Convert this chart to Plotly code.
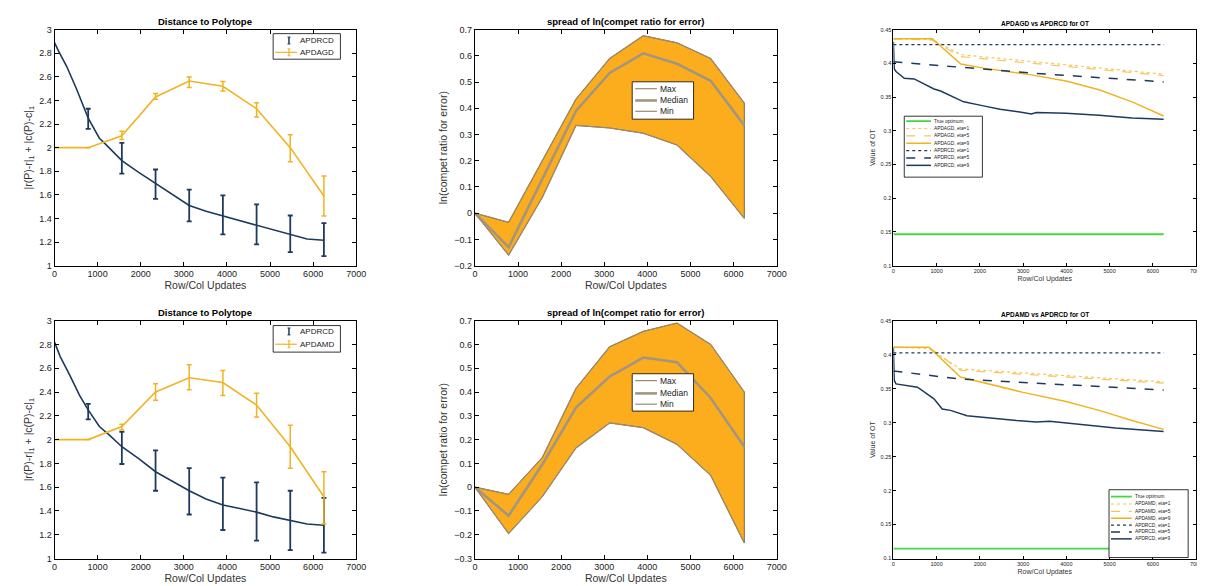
import plotly.graph_objects as go

W, H = 1205, 586

# ---------------- data ----------------
x_pts = [0, 781, 1562, 2344, 3125, 3906, 4688, 5469, 6250]
x_err = [781, 1562, 2344, 3125, 3906, 4688, 5469, 6250]

# top-left
tl_blue_x = [0, 91, 281, 508, 781, 1040, 1153, 1562, 1953, 2344, 2734, 3125, 3516, 3906, 4297, 4688, 5078, 5469, 5859, 6250]
tl_blue_y = [2.89, 2.82, 2.69, 2.50, 2.25, 2.08, 2.04, 1.89, 1.79, 1.695, 1.60, 1.51, 1.46, 1.42, 1.38, 1.34, 1.30, 1.26, 1.225, 1.215]
tl_blue_mid = [2.245, 1.91, 1.69, 1.51, 1.43, 1.35, 1.27, 1.22]
tl_blue_err = [0.085, 0.13, 0.125, 0.135, 0.165, 0.17, 0.155, 0.14]
tl_yel_y = [2.0, 2.0, 2.1, 2.43, 2.565, 2.52, 2.33, 2.0, 1.59]
tl_yel_mid = [2.0, 2.105, 2.435, 2.555, 2.52, 2.32, 1.995, 1.59]
tl_yel_err = [0.0, 0.035, 0.025, 0.045, 0.04, 0.06, 0.115, 0.17]

# bottom-left
bl_blue_x = [0, 129, 356, 584, 781, 1040, 1267, 1562, 1953, 2344, 2734, 3125, 3516, 3906, 4297, 4688, 5078, 5469, 5859, 6250]
bl_blue_y = [2.82, 2.70, 2.54, 2.37, 2.25, 2.11, 2.04, 1.94, 1.84, 1.73, 1.65, 1.57, 1.50, 1.45, 1.42, 1.39, 1.35, 1.32, 1.29, 1.28]
bl_blue_mid = [2.235, 1.93, 1.74, 1.565, 1.46, 1.395, 1.32, 1.28]
bl_blue_err = [0.065, 0.135, 0.17, 0.195, 0.22, 0.245, 0.25, 0.23]
bl_yel_y = [2.0, 2.0, 2.11, 2.40, 2.52, 2.48, 2.29, 1.94, 1.52]
bl_yel_mid = [2.0, 2.105, 2.40, 2.525, 2.475, 2.29, 1.94, 1.51]
bl_yel_err = [0.0, 0.025, 0.07, 0.105, 0.105, 0.10, 0.18, 0.22]

# middle: spread of ln(compet ratio)
tm_max = [0.0, -0.035, 0.20, 0.435, 0.59, 0.677, 0.65, 0.59, 0.42]
tm_med = [0.0, -0.13, 0.13, 0.39, 0.535, 0.61, 0.57, 0.505, 0.335]
tm_min = [0.0, -0.16, 0.06, 0.335, 0.325, 0.305, 0.26, 0.14, -0.02]
bm_max = [0.0, -0.03, 0.124, 0.415, 0.59, 0.655, 0.69, 0.60, 0.40]
bm_med = [0.0, -0.12, 0.095, 0.335, 0.465, 0.545, 0.525, 0.375, 0.17]
bm_min = [0.0, -0.195, -0.04, 0.165, 0.27, 0.25, 0.18, 0.05, -0.235]

# right: value of OT
tr_opt_x = [0, 6250]; tr_opt_y = [0.1465, 0.1465]
tr_a1_x = [0, 900, 1560, 6250]; tr_a1_y = [0.4365, 0.4355, 0.413, 0.384]
tr_a5_x = [0, 900, 1560, 6250]; tr_a5_y = [0.4365, 0.4345, 0.410, 0.382]
tr_a9_x = [0, 900, 1560, 2084, 3191, 3992, 4756, 5519, 6250]
tr_a9_y = [0.4365, 0.4365, 0.399, 0.393, 0.383, 0.374, 0.361, 0.343, 0.322]
tr_r1_x = [0, 6250]; tr_r1_y = [0.428, 0.428]
tr_r5_x = [0, 3191, 6250]; tr_r5_y = [0.4026, 0.3856, 0.3726]
tr_r9_x = [0, 20, 61, 252, 481, 939, 1092, 1321, 1626, 2084, 2466, 2924, 3191, 3305, 3992, 4756, 5519, 6250]
tr_r9_y = [0.432, 0.392, 0.388, 0.378, 0.377, 0.362, 0.359, 0.352, 0.343, 0.337, 0.332, 0.328, 0.325, 0.327, 0.326, 0.323, 0.319, 0.317]

br_opt_x = [0, 6250]; br_opt_y = [0.1146, 0.1146]
br_a1_x = [0, 824, 1550, 6250]; br_a1_y = [0.4108, 0.409, 0.379, 0.360]
br_a5_x = [0, 824, 1550, 6250]; br_a5_y = [0.4108, 0.4108, 0.377, 0.358]
br_a9_x = [0, 824, 1550, 3000, 3992, 4756, 5519, 6250]
br_a9_y = [0.4108, 0.4108, 0.367, 0.3445, 0.331, 0.318, 0.303, 0.290]
br_r1_x = [0, 6250]; br_r1_y = [0.4026, 0.4026]
br_r5_x = [0, 1550, 6250]; br_r5_y = [0.376, 0.364, 0.348]
br_r9_x = [0, 20, 61, 557, 939, 1130, 1321, 1702, 2847, 3305, 3611, 4374, 5137, 6250]
br_r9_y = [0.41, 0.362, 0.357, 0.352, 0.335, 0.32, 0.318, 0.31, 0.303, 0.301, 0.302, 0.297, 0.292, 0.287]

# ---------------- styles ----------------
BLUE = "#1d3a5e"
YEL = "#f0b323"
YEL_L = "#f5c65a"
ORANGE = "#fbad1d"
EDGE = "#9c8a6c"
MED = "#a3957f"
GREEN = "#3fdc3f"
FONT = "Liberation Sans, Arial, sans-serif"

fig = go.Figure()
shapes = []
annotations = []

def px_x(a, b):
    return [a / W, b / W]

def px_y(top, bot):
    return [1 - bot / H, 1 - top / H]

cols = [px_x(44, 349), px_x(469, 774), px_x(892, 1198)]
rows = [px_y(17, 257), px_y(313, 555)]

# ---- custom legend helpers (pixel positions -> paper) ----
def lg_box(x0, y0, x1, y1):
    shapes.append(dict(type="rect", xref="paper", yref="paper", x0=x0 / W, x1=x1 / W,
                       y0=1 - y1 / H, y1=1 - y0 / H, fillcolor="white",
                       line=dict(color="black", width=0.8), layer="above"))

def lg_line(xa, xb, y, color, dash="solid", width=1.2):
    shapes.append(dict(type="line", xref="paper", yref="paper", x0=xa / W, x1=xb / W,
                       y0=1 - y / H, y1=1 - y / H, line=dict(color=color, dash=dash, width=width),
                       layer="above"))

def lg_ibar(x, y, half, color, width=1.5):
    shapes.append(dict(type="line", xref="paper", yref="paper", x0=x / W, x1=x / W,
                       y0=1 - (y + half) / H, y1=1 - (y - half) / H, line=dict(color=color, width=width),
                       layer="above"))
    for yy in (y - half, y + half):
        shapes.append(dict(type="line", xref="paper", yref="paper", x0=(x - 1.5) / W, x1=(x + 1.5) / W,
                           y0=1 - yy / H, y1=1 - yy / H, line=dict(color=color, width=1),
                           layer="above"))

def lg_text(x, y, text, size):
    annotations.append(dict(text=text, x=x / W, y=1 - y / H, xref="paper", yref="paper",
                            xanchor="left", yanchor="middle", showarrow=False,
                            font=dict(family=FONT, size=size, color="#222")))

# ---- left plots ----
def left_plot(n, bx, by, bmid, berr, yy, ymid, yerr):
    xa, ya = (f"x{n}", f"y{n}") if n > 1 else ("x", "y")
    fig.add_trace(go.Scatter(x=bx, y=by, mode="lines", line=dict(color=BLUE, width=1.6),
                             showlegend=False, xaxis=xa, yaxis=ya))
    fig.add_trace(go.Scatter(x=x_err, y=bmid, mode="markers", name="APDRCD",
                             marker=dict(color=BLUE, size=1),
                             error_y=dict(type="data", array=berr, color=BLUE, thickness=1.8, width=2.5),
                             showlegend=False, xaxis=xa, yaxis=ya))
    fig.add_trace(go.Scatter(x=x_pts, y=yy, mode="lines", line=dict(color=YEL, width=1.6),
                             showlegend=False, xaxis=xa, yaxis=ya))
    fig.add_trace(go.Scatter(x=x_err, y=ymid, mode="markers", marker=dict(color=YEL, size=1),
                             error_y=dict(type="data", array=yerr, color=YEL, thickness=1.5, width=2.5),
                             showlegend=False, xaxis=xa, yaxis=ya))

left_plot(1, tl_blue_x, tl_blue_y, tl_blue_mid, tl_blue_err, tl_yel_y, tl_yel_mid, tl_yel_err)
left_plot(4, bl_blue_x, bl_blue_y, bl_blue_mid, bl_blue_err, bl_yel_y, bl_yel_mid, bl_yel_err)

for (by0, by1, e1, e2, nm) in [(21, 47, 28, 40, "APDAGD"), (318, 345, 324, 337, "APDAMD")]:
    lg_box(265, by0, 333, by1)
    lg_ibar(281, e1, 3.5, BLUE)
    lg_text(290, e1, "APDRCD", 8)
    lg_line(267, 289, e2, YEL, width=1.2)
    lg_ibar(281, e2, 3.5, YEL, width=1.2)
    lg_text(290, e2, nm, 8)

# ---- middle plots ----
def mid_plot(n, mx, md, mn):
    xa, ya = f"x{n}", f"y{n}"
    fig.add_trace(go.Scatter(x=x_pts + x_pts[::-1], y=mx + mn[::-1], mode="lines", fill="toself",
                             fillcolor=ORANGE, line=dict(color="#7a6a50", width=1),
                             showlegend=False, hoverinfo="skip", xaxis=xa, yaxis=ya))
    fig.add_trace(go.Scatter(x=x_pts, y=mx, mode="lines", name="Max",
                             line=dict(color=EDGE, width=1.2), showlegend=False, xaxis=xa, yaxis=ya))
    fig.add_trace(go.Scatter(x=x_pts, y=md, mode="lines", name="Median",
                             line=dict(color=MED, width=2.6), showlegend=False, xaxis=xa, yaxis=ya))
    fig.add_trace(go.Scatter(x=x_pts, y=mn, mode="lines", name="Min",
                             line=dict(color=EDGE, width=1.2), showlegend=False, xaxis=xa, yaxis=ya))

mid_plot(2, tm_max, tm_med, tm_min)
mid_plot(5, bm_max, bm_med, bm_min)

for (by0, by1, ys) in [(70, 108, (77, 89, 100)), (367, 405, (374, 387, 398))]:
    lg_box(628, by0, 690, by1)
    for y, nm, c, w in zip(ys, ["Max", "Median", "Min"], [EDGE, MED, EDGE], [1.2, 2.6, 1.2]):
        lg_line(631, 653, y, c, width=w)
        lg_text(654, y, nm, 8.5)

# ---- right plots ----
r_styles = [(GREEN, "solid", 1.8), (YEL_L, "dot", 1.2), (YEL_L, "dash", 1.2), (YEL, "solid", 1.5),
            (BLUE, "dot", 1.2), (BLUE, "dash", 1.5), (BLUE, "solid", 1.5)]

def right_plot(n, alg, series, box, ys, lx0, lx1):
    xa, ya = f"x{n}", f"y{n}"
    names = ["True optimum", f"{alg}, eta=1", f"{alg}, eta=5", f"{alg}, eta=9",
             "APDRCD, eta=1", "APDRCD, eta=5", "APDRCD, eta=9"]
    for (sx, sy), nm, (c, d, w) in zip(series, names, r_styles):
        fig.add_trace(go.Scatter(x=sx, y=sy, mode="lines", name=nm,
                                 line=dict(color=c, dash=d, width=w), showlegend=False, xaxis=xa, yaxis=ya))
    lg_box(*box)
    for y, nm, (c, d, w) in zip(ys, names, r_styles):
        lg_line(lx0, lx1, y, c, dash=d, width=w)
        lg_text(lx1 + 1, y, nm, 4.8)

right_plot(3, "APDAGD",
           [(tr_opt_x, tr_opt_y), (tr_a1_x, tr_a1_y), (tr_a5_x, tr_a5_y), (tr_a9_x, tr_a9_y),
            (tr_r1_x, tr_r1_y), (tr_r5_x, tr_r5_y), (tr_r9_x, tr_r9_y)],
           (903, 105, 982, 167), [110, 117.5, 125, 132.5, 140, 147.5, 155], 905, 930)
right_plot(6, "APDAMD",
           [(br_opt_x, br_opt_y), (br_a1_x, br_a1_y), (br_a5_x, br_a5_y), (br_a9_x, br_a9_y),
            (br_r1_x, br_r1_y), (br_r5_x, br_r5_y), (br_r9_x, br_r9_y)],
           (1110, 485, 1190, 554), [492, 499.5, 507, 514, 521, 528, 535], 1112, 1133)

# ---------------- axes ----------------
layout = {}
ylims = {1: ([1, 3], 0.2), 2: ([-0.2, 0.7], 0.1), 3: ([0.1, 0.45], 0.05),
         4: ([1, 3], 0.2), 5: ([-0.3, 0.7], 0.1), 6: ([0.1, 0.45], 0.05)}
ytitles = {1: "|r(P)-r|<sub>1</sub> + |c(P)-c|<sub>1</sub>", 2: "ln(compet ratio for error)", 3: "Value of OT",
           4: "|r(P)-r|<sub>1</sub> + |c(P)-c|<sub>1</sub>", 5: "ln(compet ratio for error)", 6: "Value of OT"}
for n in range(1, 7):
    r = 0 if n <= 3 else 1
    c = (n - 1) % 3
    small = c == 2
    fs = 5.5 if small else 9
    sfx = "" if n == 1 else str(n)
    common = dict(showline=True, linecolor="black", linewidth=1, mirror="ticks", ticks="inside",
                  ticklen=3 if small else 4, tickcolor="black", showgrid=False, zeroline=False,
                  tickfont=dict(family=FONT, size=fs, color="#222"))
    layout["xaxis" + sfx] = dict(common, domain=cols[c], anchor="y" + sfx, range=[0, 7000], dtick=1000,
                                 title=dict(text="Row/Col Updates", font=dict(family=FONT, size=fs + 1.5, color="#333"),
                                            standoff=2))
    yr, dt = ylims[n]
    layout["yaxis" + sfx] = dict(common, domain=rows[r], anchor="x" + sfx, range=yr, dtick=dt,
                                 title=dict(text=ytitles[n], font=dict(family=FONT, size=fs + 1.5, color="#333"),
                                            standoff=4))

titles = [("Distance to Polytope", 0, 0), ("spread of ln(compet ratio for error)", 1, 0),
          ("APDAGD vs APDRCD for OT", 2, 0),
          ("Distance to Polytope", 0, 1), ("spread of ln(compet ratio for error)", 1, 1),
          ("APDAMD vs APDRCD for OT", 2, 1)]
for t, c, r in titles:
    annotations.append(dict(text=f"<b>{t}</b>", x=sum(cols[c]) / 2, y=rows[r][1], xref="paper", yref="paper",
                            xanchor="center", yanchor="bottom", showarrow=False, yshift=1,
                            font=dict(family=FONT, size=6.5 if c == 2 else 9.5, color="black")))

fig.update_layout(
    width=W, height=H, margin=dict(l=0, r=0, t=0, b=0),
    paper_bgcolor="white", plot_bgcolor="white",
    annotations=annotations, shapes=shapes, showlegend=False,
    **layout,
)

fig.write_html("out.html")
